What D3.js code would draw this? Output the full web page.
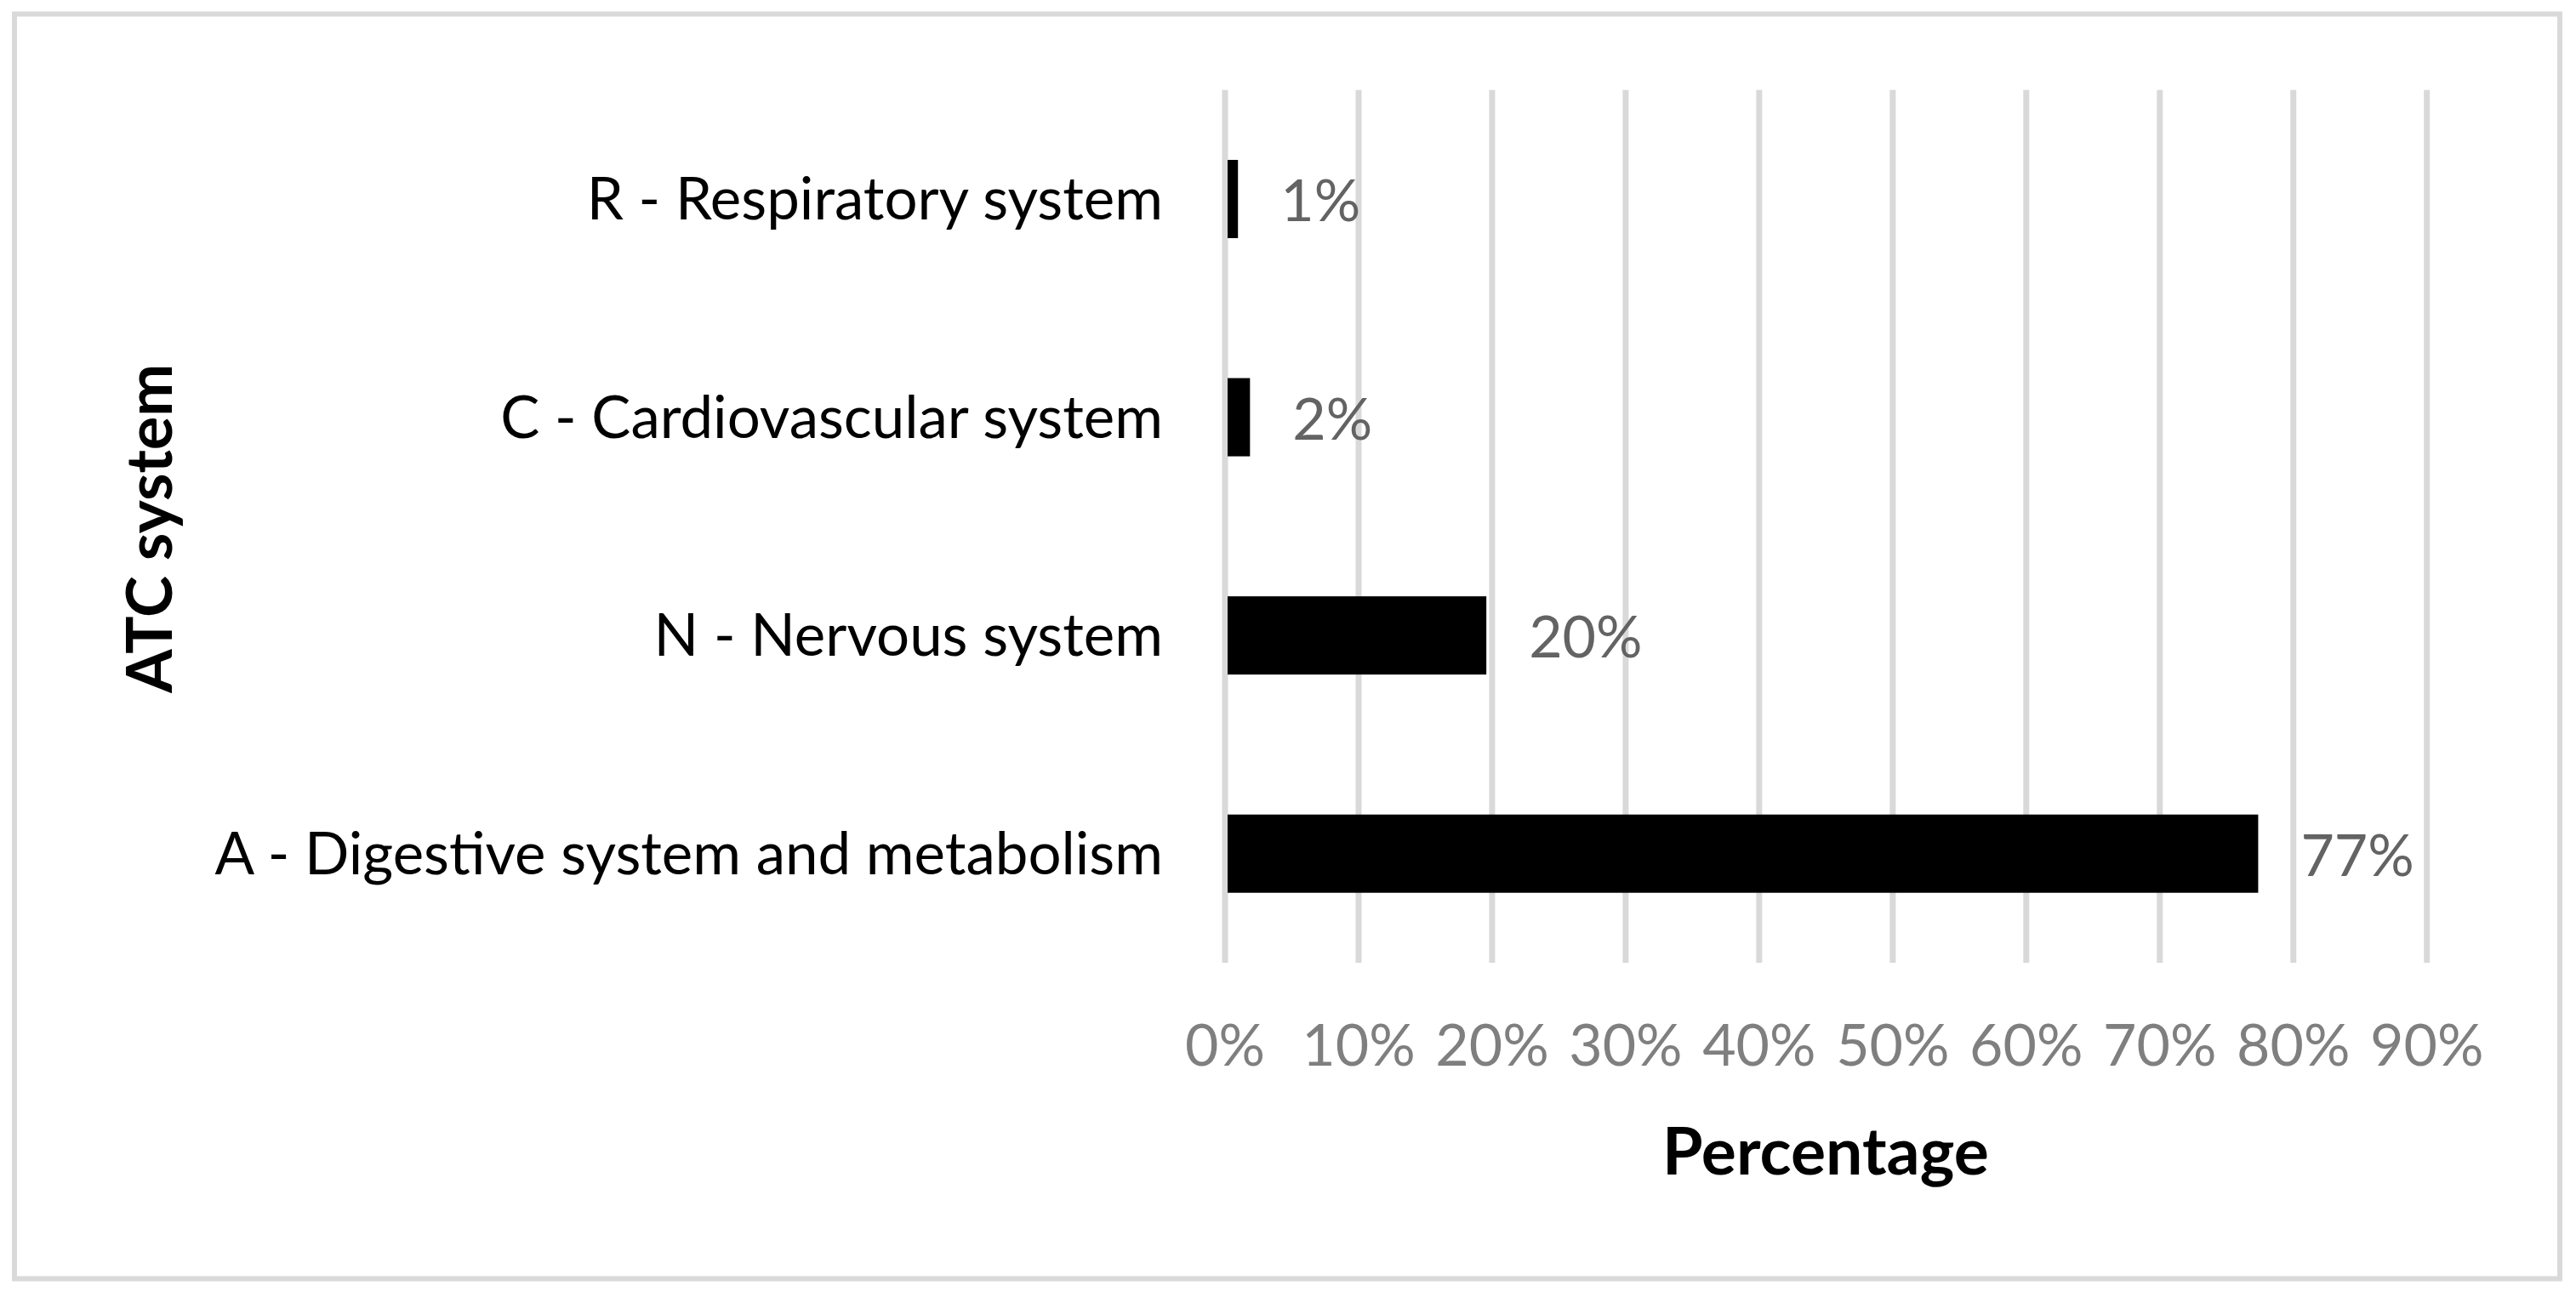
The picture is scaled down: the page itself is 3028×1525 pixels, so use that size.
<!DOCTYPE html>
<html>
<head>
<meta charset="utf-8">
<script src="https://cdn.jsdelivr.net/npm/d3@7"></script>
<style>
  html, body { margin: 0; padding: 0; background: #fff; }
  svg { display: block; }
</style>
</head>
<body>
<svg id="chart" width="3028" height="1525"></svg>
<script>
// ---- data ----
const categories = ["R - Respiratory system", "C - Cardiovascular system", "N - Nervous system", "A - Digestive system and metabolism"];
const values = [1.0, 1.9, 19.6, 77.4];
const dataLabels = ["1%", "2%", "20%", "77%"];
const tickValues = [0, 10, 20, 30, 40, 50, 60, 70, 80, 90];
const tickLabels = ["0%", "10%", "20%", "30%", "40%", "50%", "60%", "70%", "80%", "90%"];
const xTitle = "Percentage";
const yTitle = "ATC system";

// ---- layout ----
const FONT = "Lato, 'Open Sans', sans-serif";
const plot = { left: 1439.5, right: 2852.2, top: 105.7, bottom: 1132 };
const svg = d3.select("#chart");

// outer border
svg.append("rect")
  .attr("x", 17).attr("y", 16.5).attr("width", 2992).attr("height", 1487)
  .attr("fill", "#fff").attr("stroke", "#d9d9d9").attr("stroke-width", 6);

const x = d3.scaleLinear().domain([0, 90]).range([plot.left, plot.right]);
const y = d3.scaleBand().domain(categories).range([plot.top, plot.bottom])
  .paddingInner(0.6415).paddingOuter(0.6415 / 2);

// gridlines + tick labels
const xAxis = d3.axisBottom(x)
  .tickValues(tickValues)
  .tickSize(-(plot.bottom - plot.top))
  .tickFormat((d, i) => tickLabels[i]);
const gx = svg.append("g").attr("transform", `translate(0,${plot.bottom})`).call(xAxis);
gx.select(".domain").remove();
gx.selectAll(".tick line").attr("stroke", "#d9d9d9").attr("stroke-width", 7);
gx.selectAll(".tick text")
  .attr("y", 120.7).attr("dy", 0)
  .attr("fill", "#7f7f7f")
  .style("font-family", FONT).style("font-size", "68px");

// bars
const gridHalf = 3.5;
svg.append("g").selectAll("rect").data(values).join("rect")
  .attr("x", x(0) + gridHalf)
  .attr("y", (d, i) => y(categories[i]))
  .attr("width", d => x(d) - x(0) - gridHalf)
  .attr("height", y.bandwidth())
  .attr("fill", "#000");

// data labels
svg.append("g").selectAll("text").data(values).join("text")
  .attr("x", d => x(d) + 50)
  .attr("y", (d, i) => y(categories[i]) + y.bandwidth() / 2 + 26)
  .attr("fill", "#636363")
  .style("font-family", FONT).style("font-size", "68px")
  .text((d, i) => dataLabels[i]);

// category labels
svg.append("g").selectAll("text").data(categories).join("text")
  .attr("x", x(0) - 72.5)
  .attr("y", d => y(d) + y.bandwidth() / 2 + 24)
  .attr("text-anchor", "end")
  .attr("fill", "#000")
  .style("font-family", FONT).style("font-size", "69px")
  .text(d => d);

// axis titles
svg.append("text")
  .attr("x", (plot.left + plot.right) / 2).attr("y", 1380.7)
  .attr("text-anchor", "middle")
  .attr("fill", "#000")
  .style("font-family", FONT).style("font-size", "77px").style("font-weight", "bold")
  .text(xTitle);

svg.append("text")
  .attr("transform", `translate(201.7,${(plot.top + plot.bottom) / 2 + 2.5}) rotate(-90)`)
  .attr("text-anchor", "middle")
  .attr("fill", "#000")
  .style("font-family", FONT).style("font-size", "74px").style("font-weight", "bold")
  .text(yTitle);
</script>
</body>
</html>
